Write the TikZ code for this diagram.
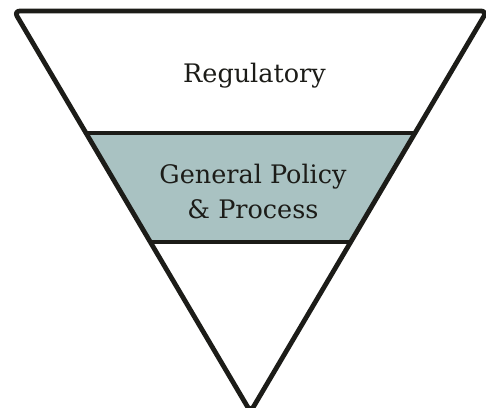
\documentclass[tikz,border=0pt]{standalone}
\usepackage{fontspec}
\setmainfont{DejaVu Serif}
\usetikzlibrary{calc}
\definecolor{band}{HTML}{A9C2C2}
\definecolor{ink}{HTML}{1C1C18}
\tikzset{
  outline/.style={draw=ink, line width=4.8pt, line join=round, rounded corners=6pt},
  divider/.style={draw=ink, line width=4pt},
  label/.style={text=ink, font=\fontsize{25.5}{35}\selectfont, align=center}
}
\begin{document}
\begin{tikzpicture}[x=1pt,y=-1pt]
\useasboundingbox (0,0) rectangle (486,407);
\coordinate (tl) at (14,11);
\coordinate (tr) at (487,11);
\coordinate (ap) at (250.5,411.8);
% band between y=133 and y=242
\coordinate (b1l) at ($(tl)!{(133-11)/400.8}!(ap)$);
\coordinate (b1r) at ($(tr)!{(133-11)/400.8}!(ap)$);
\coordinate (b2l) at ($(tl)!{(242-11)/400.8}!(ap)$);
\coordinate (b2r) at ($(tr)!{(242-11)/400.8}!(ap)$);
\fill[band] (b1l) -- (b1r) -- (b2r) -- (b2l) -- cycle;
\draw[divider] (b1l) -- (b1r);
\draw[divider] (b2l) -- (b2r);
\draw[outline] (tl) -- (tr) -- (ap) -- cycle;
\node[label] (reg) at (254.5,76) {Regulatory};
\node[label] (gen) at (253,191) {General Policy\\\& Process};
\end{tikzpicture}
\end{document}
